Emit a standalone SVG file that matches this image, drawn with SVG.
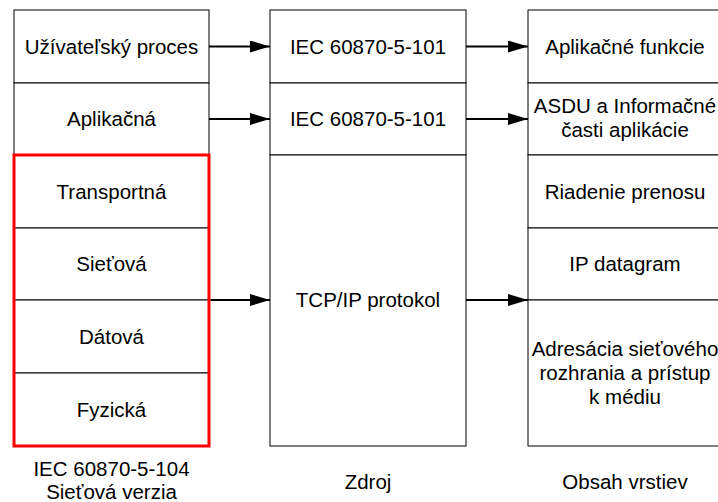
<svg xmlns="http://www.w3.org/2000/svg" width="718" height="502" viewBox="0 0 718 502">
<style>
.cell{fill:#fff;stroke:#000;stroke-width:1}
.red{fill:none;stroke:#ff0000;stroke-width:3}
text{font-family:"Liberation Sans",Arial,sans-serif;font-size:20.5px;fill:#000;text-anchor:middle}
.conn{stroke:#000;stroke-width:2;fill:none;marker-end:url(#arr)}
</style>
<defs>
<marker id="arr" markerUnits="userSpaceOnUse" markerWidth="20" markerHeight="12" refX="20" refY="6" orient="auto">
<path d="M0,0 L20,6 L0,12 z" fill="#000"/>
</marker>
</defs>
<rect width="718" height="502" fill="#fff"/>
<g id="left-column">
<g id="l-uzivatelsky"><rect class="cell" x="14" y="10" width="195" height="73"/><text x="111.5" y="53.5">Užívateľský proces</text></g>
<g id="l-aplikacna"><rect class="cell" x="14" y="83" width="195" height="72"/><text x="111.5" y="126">Aplikačná</text></g>
<g id="l-transportna"><rect class="cell" x="14" y="155" width="195" height="73"/><text x="111.5" y="198.5">Transportná</text></g>
<g id="l-sietova"><rect class="cell" x="14" y="228" width="195" height="72"/><text x="111.5" y="271">Sieťová</text></g>
<g id="l-datova"><rect class="cell" x="14" y="300" width="195" height="73"/><text x="111.5" y="343.5">Dátová</text></g>
<g id="l-fyzicka"><rect class="cell" x="14" y="373" width="195" height="73"/><text x="111.5" y="416.5">Fyzická</text></g>
<g id="l-highlight"><rect class="red" x="14" y="155" width="195" height="291"/></g>
<g id="l-caption"><text x="111.5" y="476">IEC 60870-5-104</text><text x="111.5" y="498.5">Sieťová verzia</text></g>
</g>
<g id="middle-column">
<g id="m-iec1"><rect class="cell" x="270" y="10" width="196" height="73"/><text x="368" y="53.5">IEC 60870-5-101</text></g>
<g id="m-iec2"><rect class="cell" x="270" y="83" width="196" height="72"/><text x="368" y="126">IEC 60870-5-101</text></g>
<g id="m-tcpip"><rect class="cell" x="270" y="155" width="196" height="291"/><text x="368" y="307">TCP/IP protokol</text></g>
<g id="m-caption"><text x="368" y="489">Zdroj</text></g>
</g>
<g id="right-column">
<g id="r-funkcie"><rect class="cell" x="528" y="10" width="194" height="73"/><text x="625" y="53.5">Aplikačné funkcie</text></g>
<g id="r-asdu"><rect class="cell" x="528" y="83" width="194" height="72"/><text x="625" y="113">ASDU a Informačné</text><text x="625" y="137">časti aplikácie</text></g>
<g id="r-riadenie"><rect class="cell" x="528" y="155" width="194" height="73"/><text x="625" y="198.5">Riadenie prenosu</text></g>
<g id="r-ip"><rect class="cell" x="528" y="228" width="194" height="72"/><text x="625" y="271">IP datagram</text></g>
<g id="r-adresacia"><rect class="cell" x="528" y="300" width="194" height="146"/><text x="625" y="356">Adresácia sieťového</text><text x="625" y="380">rozhrania a prístup</text><text x="625" y="404">k médiu</text></g>
<g id="r-caption"><text x="625" y="489">Obsah vrstiev</text></g>
</g>
<g id="connectors">
<line class="conn" x1="209" y1="46.5" x2="270" y2="46.5"/>
<line class="conn" x1="209" y1="119" x2="270" y2="119"/>
<line class="conn" x1="210.5" y1="300" x2="270" y2="300"/>
<line class="conn" x1="466" y1="46.5" x2="528" y2="46.5"/>
<line class="conn" x1="466" y1="119" x2="528" y2="119"/>
<line class="conn" x1="466" y1="300" x2="528" y2="300"/>
</g>
</svg>
